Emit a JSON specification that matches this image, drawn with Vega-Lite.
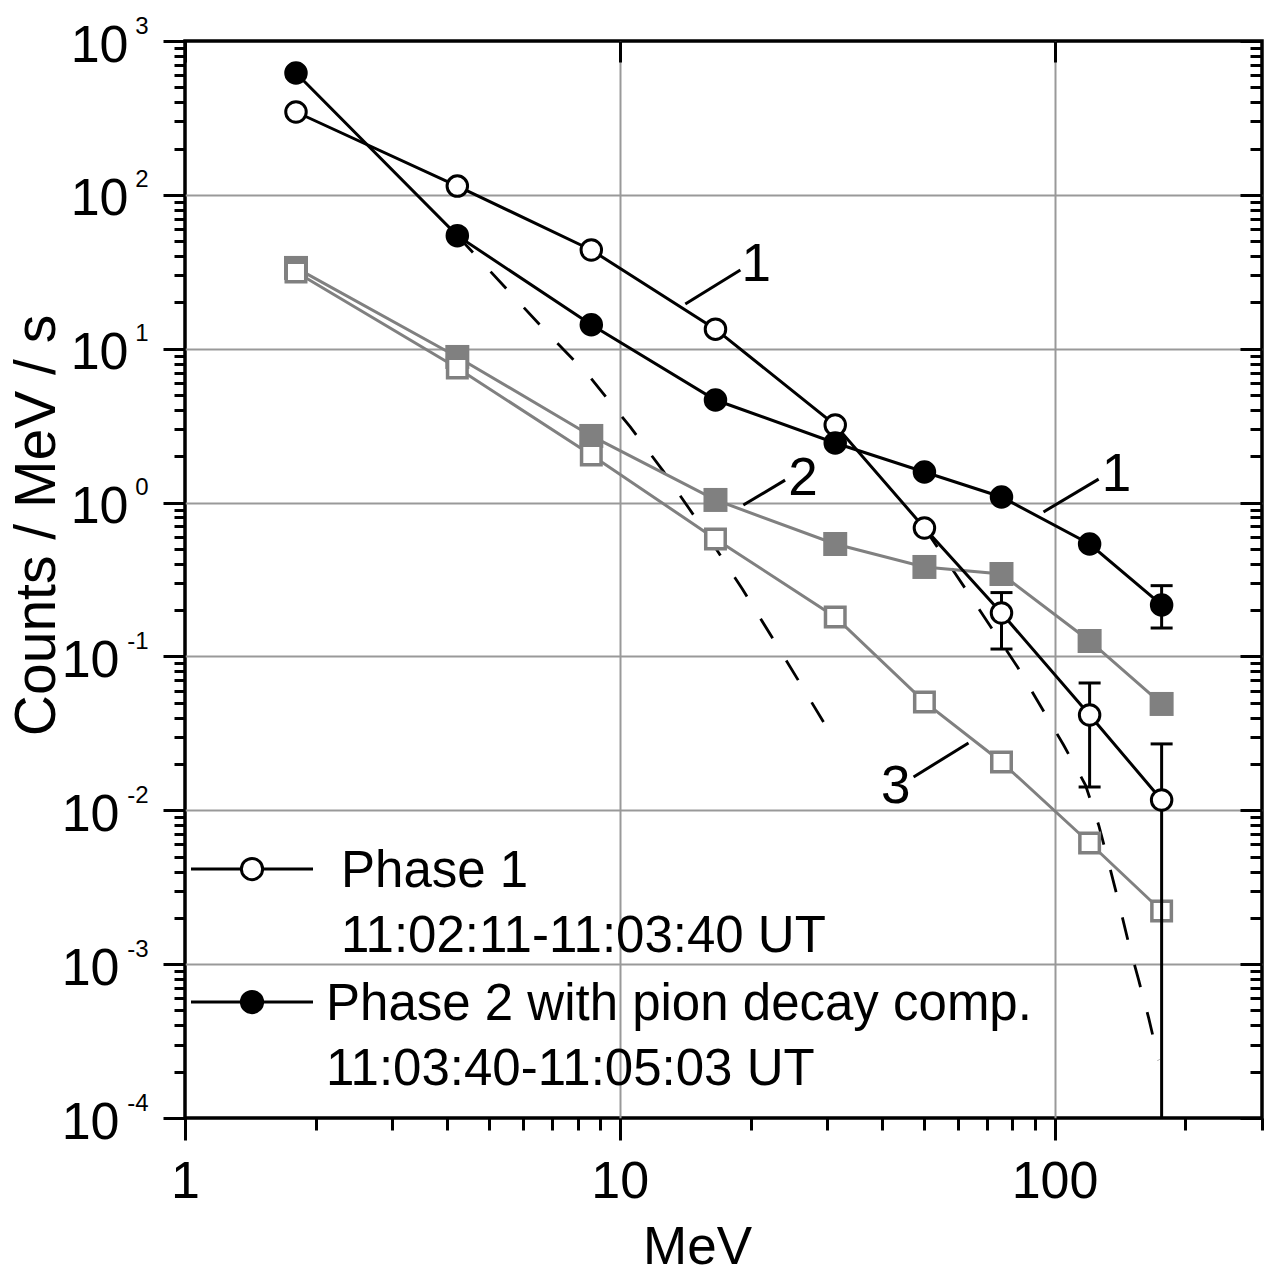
{
  "$schema": "https://vega.github.io/schema/vega-lite/v6.json",
  "width": 1077,
  "height": 1077,
  "autosize": {"type": "none"},
  "padding": {"left": 185, "top": 41, "right": 13, "bottom": 156},
  "background": "white",
  "config": {
    "view": {"stroke": "black", "strokeWidth": 3.5},
    "axis": {
      "labelFont": "Liberation Sans", "titleFont": "Liberation Sans",
      "labelColor": "black", "titleColor": "black", "tickColor": "black",
      "tickWidth": 3, "labelOverlap": false, "labelFlush": false, "labelBound": false,
      "domain": false, "grid": false, "gridColor": "#999999", "gridWidth": 2,
      "titleFontWeight": "normal"
    }
  },
  "datasets": {
    "pts": [
      {"E": 1.8, "v": 345.6, "s": "Phase 1"}, {"E": 4.23, "v": 114, "s": "Phase 1"},
      {"E": 8.6, "v": 43.8, "s": "Phase 1"}, {"E": 16.6, "v": 13.4, "s": "Phase 1"},
      {"E": 31.3, "v": 3.19, "s": "Phase 1"}, {"E": 50.2, "v": 0.684, "s": "Phase 1"},
      {"E": 75.5, "v": 0.1915, "s": "Phase 1"}, {"E": 120.4, "v": 0.0416, "s": "Phase 1"},
      {"E": 176.3, "v": 0.01167, "s": "Phase 1"},
      {"E": 1.8, "v": 619, "s": "Phase 2"}, {"E": 4.23, "v": 54.3, "s": "Phase 2"},
      {"E": 8.6, "v": 14.3, "s": "Phase 2"}, {"E": 16.6, "v": 4.64, "s": "Phase 2"},
      {"E": 31.3, "v": 2.44, "s": "Phase 2"}, {"E": 50.2, "v": 1.58, "s": "Phase 2"},
      {"E": 75.5, "v": 1.087, "s": "Phase 2"}, {"E": 120.4, "v": 0.538, "s": "Phase 2"},
      {"E": 176.3, "v": 0.216, "s": "Phase 2"},
      {"E": 1.8, "v": 33.5, "s": "2"}, {"E": 4.23, "v": 8.84, "s": "2"},
      {"E": 8.6, "v": 2.71, "s": "2"}, {"E": 16.6, "v": 1.04, "s": "2"},
      {"E": 31.3, "v": 0.538, "s": "2"}, {"E": 50.2, "v": 0.3815, "s": "2"},
      {"E": 75.5, "v": 0.3434, "s": "2"}, {"E": 120.4, "v": 0.126, "s": "2"},
      {"E": 176.3, "v": 0.0491, "s": "2"},
      {"E": 1.8, "v": 31.5, "s": "3"}, {"E": 4.23, "v": 7.49, "s": "3"},
      {"E": 8.6, "v": 2.04, "s": "3"}, {"E": 16.6, "v": 0.58, "s": "3"},
      {"E": 31.3, "v": 0.1805, "s": "3"}, {"E": 50.2, "v": 0.0506, "s": "3"},
      {"E": 75.5, "v": 0.0206, "s": "3"}, {"E": 120.4, "v": 0.00613, "s": "3"},
      {"E": 176.3, "v": 0.002216, "s": "3"}
    ],
    "errs": [
      {"E": 75.5, "lo": 0.1117, "hi": 0.26},
      {"E": 120.4, "lo": 0.01417, "hi": 0.0672},
      {"E": 176.3, "lo": 0.153, "hi": 0.2884},
      {"E": 176.3, "lo": 0.00001, "hi": 0.027}
    ],
    "dash": [
      {"E": 4.23, "v": 54.3, "c": "a"}, {"E": 5.66, "v": 22.3, "c": "a"},
      {"E": 6.92, "v": 12.1, "c": "a"}, {"E": 8.46, "v": 6.75, "c": "a"},
      {"E": 10.57, "v": 3.10, "c": "a"}, {"E": 12.59, "v": 1.60, "c": "a"},
      {"E": 15.56, "v": 0.673, "c": "a"}, {"E": 19.14, "v": 0.274, "c": "a"},
      {"E": 23.04, "v": 0.117, "c": "a"}, {"E": 26.3, "v": 0.0633, "c": "a"},
      {"E": 29.7, "v": 0.0358, "c": "a"},
      {"E": 50.2, "v": 0.684, "c": "b"}, {"E": 63.1, "v": 0.2623, "c": "b"},
      {"E": 82.2, "v": 0.0854, "c": "b"}, {"E": 104.9, "v": 0.02658, "c": "b"},
      {"E": 117.8, "v": 0.0146, "c": "b"}, {"E": 126.3, "v": 0.008025, "c": "b"},
      {"E": 133.2, "v": 0.004545, "c": "b"}, {"E": 140.4, "v": 0.002535, "c": "b"},
      {"E": 148.0, "v": 0.001373, "c": "b"}, {"E": 156.1, "v": 0.000789, "c": "b"},
      {"E": 164.6, "v": 0.000447, "c": "b"}, {"E": 173.5, "v": 0.000238, "c": "b"}
    ],
    "ann": [
      {"E": 20.6, "v": 36.6, "t": "1"},
      {"E": 26.4, "v": 1.49, "t": "2"},
      {"E": 138.9, "v": 1.58, "t": "1"},
      {"E": 43.1, "v": 0.01483, "t": "3"}
    ],
    "lead": [
      {"E": 14.15, "v": 19.5, "E2": 18.94, "v2": 32.5},
      {"E": 19.24, "v": 0.964, "E2": 24.0, "v2": 1.40},
      {"E": 94.3, "v": 0.869, "E2": 126.3, "v2": 1.42},
      {"E": 47.4, "v": 0.01646, "E2": 63.4, "v2": 0.0274}
    ]
  },
  "resolve": {"axis": {"x": "independent", "y": "independent"}},
  "layer": [
    {
      "data": {"name": "dash"},
      "mark": {"type": "line", "color": "black", "strokeWidth": 2.8, "strokeDash": [23, 26]},
      "encoding": {
        "x": {"field": "E", "type": "quantitative",
              "scale": {"type": "log", "domain": [1, 300], "nice": false},
              "axis": {"orient": "bottom", "values": [1, 10, 100], "labelExpr": "'' + datum.value",
                       "tickSize": 22, "labelFontSize": 52, "labelPadding": 57, "labelBaseline": "alphabetic",
                       "title": "MeV", "titleFontSize": 53, "titleX": 512, "titleY": 145,
                       "titleAlign": "center", "titleBaseline": "alphabetic"}},
        "y": {"field": "v", "type": "quantitative",
              "scale": {"type": "log", "domain": [0.0001, 1000], "nice": false},
              "axis": {"orient": "left", "values": [1, 10, 100, 1000], "labelExpr": "'10'",
                       "tickSize": 22, "labelFontSize": 52, "labelPadding": 35, "labelBaseline": "alphabetic",
                       "labelOffset": 20, "labelAlign": "right",
                       "title": "Counts / MeV / s", "titleFontSize": 57, "titleX": -131, "titleY": 484,
                       "titleAngle": -90, "titleAlign": "center", "titleBaseline": "alphabetic"}},
        "detail": {"field": "c", "type": "nominal"}
      }
    },
    {
      "data": {"name": "pts"},
      "transform": [{"filter": "datum.s == '2' || datum.s == '3'"}],
      "mark": {"type": "line", "color": "#808080", "strokeWidth": 3},
      "encoding": {
        "x": {"field": "E", "type": "quantitative",
              "scale": {"type": "log", "domain": [1, 300], "nice": false},
              "axis": {"orient": "bottom", "values": [2, 3, 4, 5, 6, 7, 8, 9, 20, 30, 40, 50, 60, 70, 80, 90, 200, 300],
                       "tickSize": 12, "labels": false, "title": null}},
        "y": {"field": "v", "type": "quantitative",
              "scale": {"type": "log", "domain": [0.0001, 1000], "nice": false},
              "axis": {"orient": "left", "values": [0.1, 0.01, 0.001, 0.0001], "labelExpr": "'10'",
                       "tickSize": 22, "labelFontSize": 52, "labelPadding": 44, "labelBaseline": "alphabetic",
                       "labelOffset": 20, "labelAlign": "right", "title": null}},
        "detail": {"field": "s", "type": "nominal"}
      }
    },
    {
      "data": {"name": "pts"},
      "transform": [{"filter": "datum.s == '2'"}],
      "mark": {"type": "point", "shape": "square", "filled": true, "fill": "#808080", "size": 576, "opacity": 1, "strokeWidth": 0},
      "encoding": {
        "x": {"field": "E", "type": "quantitative",
              "scale": {"type": "log", "domain": [1, 300], "nice": false},
              "axis": {"orient": "top", "values": [1, 10, 100], "tickSize": 21, "offset": -21,
                       "labels": false, "title": null}},
        "y": {"field": "v", "type": "quantitative",
              "scale": {"type": "log", "domain": [0.0001, 1000], "nice": false},
              "axis": {"orient": "left", "values": [1000, 100, 10, 1, 0.1, 0.01, 0.001, 0.0001],
                       "labelExpr": "'' + round(log(datum.value) / LN10)",
                       "ticks": false, "tickSize": 0, "labelFontSize": 24, "labelAlign": "right",
                       "labelBaseline": "alphabetic", "labelOffset": -8, "labelPadding": 37, "title": null}}
      }
    },
    {
      "data": {"name": "pts"},
      "transform": [{"filter": "datum.s == '3'"}],
      "mark": {"type": "point", "shape": "square", "fill": "white", "stroke": "#808080", "strokeWidth": 3.5, "size": 380, "opacity": 1},
      "encoding": {
        "x": {"field": "E", "type": "quantitative",
              "scale": {"type": "log", "domain": [1, 300], "nice": false},
              "axis": {"orient": "bottom", "values": [10, 100], "grid": true, "ticks": false, "labels": false, "title": null}},
        "y": {"field": "v", "type": "quantitative",
              "scale": {"type": "log", "domain": [0.0001, 1000], "nice": false},
              "axis": {"orient": "left",
                       "values": [0.0002, 0.0003, 0.0004, 0.0005, 0.0006, 0.0007, 0.0008, 0.0009,
                                  0.002, 0.003, 0.004, 0.005, 0.006, 0.007, 0.008, 0.009,
                                  0.02, 0.03, 0.04, 0.05, 0.06, 0.07, 0.08, 0.09,
                                  0.2, 0.3, 0.4, 0.5, 0.6, 0.7, 0.8, 0.9,
                                  2, 3, 4, 5, 6, 7, 8, 9, 20, 30, 40, 50, 60, 70, 80, 90,
                                  200, 300, 400, 500, 600, 700, 800, 900],
                       "tickSize": 11, "labels": false, "title": null}}
      }
    },
    {
      "data": {"name": "pts"},
      "transform": [{"filter": "datum.s == 'Phase 1' || datum.s == 'Phase 2'"}],
      "mark": {"type": "line", "color": "black", "strokeWidth": 3},
      "encoding": {
        "x": {"field": "E", "type": "quantitative",
              "scale": {"type": "log", "domain": [1, 300], "nice": false}, "axis": null},
        "y": {"field": "v", "type": "quantitative",
              "scale": {"type": "log", "domain": [0.0001, 1000], "nice": false},
              "axis": {"orient": "right", "values": [0.0001, 0.001, 0.01, 0.1, 1, 10, 100, 1000],
                       "tickSize": 22, "offset": -22, "labels": false, "title": null}},
        "detail": {"field": "s", "type": "nominal"}
      }
    },
    {
      "data": {"name": "errs"},
      "mark": {"type": "rule", "color": "black", "strokeWidth": 3, "clip": true},
      "encoding": {
        "x": {"field": "E", "type": "quantitative",
              "scale": {"type": "log", "domain": [1, 300], "nice": false}, "axis": null},
        "y": {"field": "lo", "type": "quantitative",
              "scale": {"type": "log", "domain": [0.0001, 1000], "nice": false},
              "axis": {"orient": "right",
                       "values": [0.0002, 0.0003, 0.0004, 0.0005, 0.0006, 0.0007, 0.0008, 0.0009,
                                  0.002, 0.003, 0.004, 0.005, 0.006, 0.007, 0.008, 0.009,
                                  0.02, 0.03, 0.04, 0.05, 0.06, 0.07, 0.08, 0.09,
                                  0.2, 0.3, 0.4, 0.5, 0.6, 0.7, 0.8, 0.9,
                                  2, 3, 4, 5, 6, 7, 8, 9, 20, 30, 40, 50, 60, 70, 80, 90,
                                  200, 300, 400, 500, 600, 700, 800, 900],
                       "tickSize": 12, "offset": -12, "labels": false, "title": null}},
        "y2": {"field": "hi"}
      }
    },
    {
      "data": {"name": "errs"},
      "mark": {"type": "point", "shape": "stroke", "size": 484, "color": "black", "strokeWidth": 3, "opacity": 1},
      "encoding": {
        "x": {"field": "E", "type": "quantitative",
              "scale": {"type": "log", "domain": [1, 300], "nice": false}, "axis": null},
        "y": {"field": "hi", "type": "quantitative",
              "scale": {"type": "log", "domain": [0.0001, 1000], "nice": false},
              "axis": {"orient": "left", "values": [0.001, 0.01, 0.1, 1, 10, 100], "grid": true,
                       "ticks": false, "labels": false, "title": null}}
      }
    },
    {
      "data": {"name": "errs"},
      "mark": {"type": "point", "shape": "stroke", "size": 484, "color": "black", "strokeWidth": 3, "opacity": 1, "clip": true},
      "encoding": {
        "x": {"field": "E", "type": "quantitative",
              "scale": {"type": "log", "domain": [1, 300], "nice": false}, "axis": null},
        "y": {"field": "lo", "type": "quantitative",
              "scale": {"type": "log", "domain": [0.0001, 1000], "nice": false}, "axis": null}
      }
    },
    {
      "data": {"name": "pts"},
      "transform": [{"filter": "datum.s == 'Phase 1' || datum.s == 'Phase 2'"}],
      "mark": {"type": "point", "shape": "circle", "filled": true, "stroke": "black", "strokeWidth": 3, "size": 420, "opacity": 1},
      "encoding": {
        "x": {"field": "E", "type": "quantitative",
              "scale": {"type": "log", "domain": [1, 300], "nice": false}, "axis": null},
        "y": {"field": "v", "type": "quantitative",
              "scale": {"type": "log", "domain": [0.0001, 1000], "nice": false}, "axis": null},
        "fill": {"field": "s", "type": "nominal",
                 "scale": {"domain": ["Phase 1", "Phase 2"], "range": ["white", "black"]},
                 "legend": {
                   "title": null, "orient": "none", "legendX": 41.5, "legendY": 802.5,
                   "direction": "vertical", "padding": 0,
                   "symbolType": "M-4.88,0L-0.85,0M0.85,0L4.88,0M0.85,0A0.85,0.85,0,1,1,-0.85,0A0.85,0.85,0,1,1,0.85,0Z",
                   "symbolSize": 625, "symbolStrokeColor": "black", "symbolStrokeWidth": 3, "symbolOpacity": 1,
                   "labelFont": "Liberation Sans", "labelFontSize": 51, "labelColor": "black",
                   "labelLimit": 2000, "labelOffset": 48.5, "labelBaseline": "alphabetic", "rowPadding": 14,
                   "labelExpr": "datum.label == 'Phase 1' ? ['Phase 1', '11:02:11-11:03:40 UT'] : ['Phase 2 with pion decay comp.', '11:03:40-11:05:03 UT']",
                   "encoding": {"labels": {"dy": {"value": 18}, "lineHeight": {"value": 65},
                                           "dx": {"value": {"expr": "datum.value == 'Phase 1' ? 15 : 0"}}}}
                 }}
      }
    },
    {
      "data": {"name": "lead"},
      "mark": {"type": "rule", "color": "black", "strokeWidth": 3},
      "encoding": {
        "x": {"field": "E", "type": "quantitative",
              "scale": {"type": "log", "domain": [1, 300], "nice": false}, "axis": null},
        "y": {"field": "v", "type": "quantitative",
              "scale": {"type": "log", "domain": [0.0001, 1000], "nice": false}, "axis": null},
        "x2": {"field": "E2"},
        "y2": {"field": "v2"}
      }
    },
    {
      "data": {"name": "ann"},
      "mark": {"type": "text", "font": "Liberation Sans", "fontSize": 53, "color": "black", "align": "center", "baseline": "middle", "dy": 3},
      "encoding": {
        "x": {"field": "E", "type": "quantitative",
              "scale": {"type": "log", "domain": [1, 300], "nice": false}, "axis": null},
        "y": {"field": "v", "type": "quantitative",
              "scale": {"type": "log", "domain": [0.0001, 1000], "nice": false}, "axis": null},
        "text": {"field": "t", "type": "nominal"}
      }
    }
  ]
}
